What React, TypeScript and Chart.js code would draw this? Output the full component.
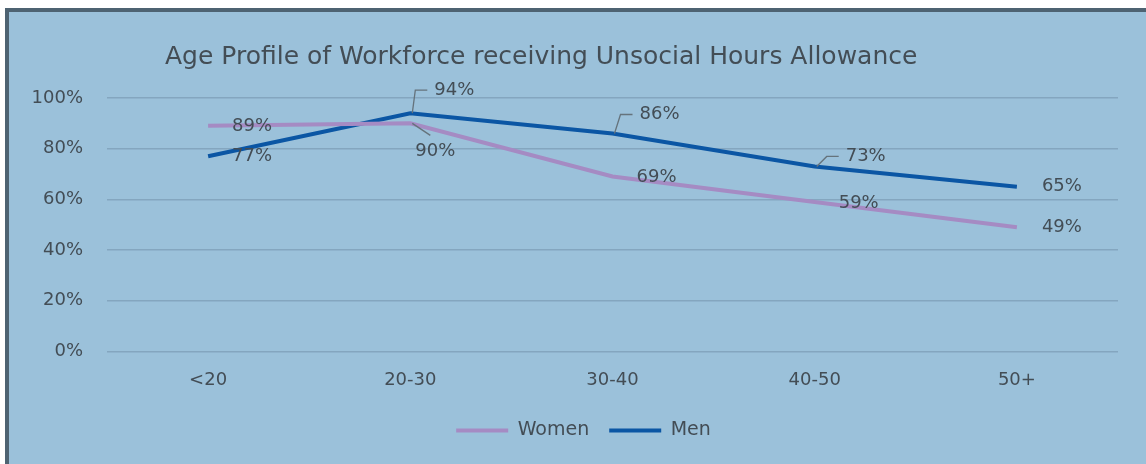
import React, { useEffect, useRef } from "react";
import { Chart, registerables } from "chart.js";

Chart.register(...registerables);

const categories = ["<20", "20-30", "30-40", "40-50", "50+"];
const womenValues = [89, 90, 69, 59, 49];
const menValues = [77, 94, 86, 73, 65];
const yTicks = [0, 20, 40, 60, 80, 100];
const titleText = "Age Profile of Workforce receiving Unsocial Hours Allowance";

const FONT = "'DejaVu Sans'";
const TEXT_COLOR = "#434d55";
const WOMEN_COLOR = "#a58bc3";
const MEN_COLOR = "#0b56a4";

// label placement: [dx of label left edge, dy of label centre, leader type]
const womenLabelPlacement: [number, number, string][] = [
  [24, 0, ""],
  [5, 28, "down"],
  [24, 1, ""],
  [24, 1, ""],
  [25, 0, ""],
];
const menLabelPlacement: [number, number, string][] = [
  [24, 0, ""],
  [24, -23, "up"],
  [27, -19, "up"],
  [31, -10, "up"],
  [25, 0, ""],
];

const frameAndTitle = {
  id: "frameAndTitle",
  beforeDraw(chart: any) {
    const ctx = chart.ctx;
    ctx.save();
    ctx.fillStyle = "#ffffff";
    ctx.fillRect(0, 0, chart.width, chart.height);
    ctx.fillStyle = "#9bc1da";
    ctx.fillRect(5, 8, chart.width, chart.height);
    ctx.fillStyle = "#4e6372";
    ctx.fillRect(5, 8, chart.width, 4);
    ctx.fillRect(5, 8, 4, chart.height);
    ctx.font = `25px ${FONT}`;
    ctx.fillStyle = TEXT_COLOR;
    ctx.textBaseline = "middle";
    ctx.textAlign = "left";
    ctx.fillText(titleText, 165, 57);
    ctx.restore();
  },
};

const pointLabels = {
  id: "pointLabels",
  afterDatasetsDraw(chart: any) {
    const ctx = chart.ctx;
    ctx.save();
    ctx.font = `18px ${FONT}`;
    ctx.fillStyle = TEXT_COLOR;
    ctx.textBaseline = "middle";
    ctx.textAlign = "left";
    const placements = [womenLabelPlacement, menLabelPlacement];
    chart.data.datasets.forEach((ds: any, di: number) => {
      const meta = chart.getDatasetMeta(di);
      meta.data.forEach((pt: any, i: number) => {
        const [dx, dy, leader] = placements[di][i];
        const text = `${ds.data[i]}%`;
        const left = pt.x + dx;
        const cy = pt.y + dy;
        ctx.fillText(text, left, cy);
        if (leader) {
          ctx.strokeStyle = "#65737c";
          ctx.lineWidth = 1.3;
          ctx.beginPath();
          if (leader === "up") {
            ctx.moveTo(pt.x + 2, pt.y);
            ctx.lineTo(left - 19, cy);
            ctx.lineTo(left - 7, cy);
          } else {
            ctx.moveTo(pt.x + 2, pt.y);
            ctx.lineTo(left + 15, cy - 16);
          }
          ctx.stroke();
        }
      });
    });
    ctx.restore();
  },
};

export default function App() {
  const ref = useRef<HTMLCanvasElement>(null);
  useEffect(() => {
    if (!ref.current) return;
    const chart = new Chart(ref.current, {
      type: "line",
      data: {
        labels: categories,
        datasets: [
          {
            label: "Women",
            data: womenValues,
            borderColor: WOMEN_COLOR,
            backgroundColor: WOMEN_COLOR,
            borderWidth: 4,
            pointRadius: 0,
            tension: 0,
          },
          {
            label: "Men",
            data: menValues,
            borderColor: MEN_COLOR,
            backgroundColor: MEN_COLOR,
            borderWidth: 4,
            pointRadius: 0,
            tension: 0,
          },
        ],
      },
      options: {
        responsive: false,
        animation: false,
        layout: { padding: { left: 21, right: 0, top: 98, bottom: 14 } },
        scales: {
          x: {
            offset: true,
            grid: { display: false, drawTicks: false },
            border: { display: false },
            ticks: { color: TEXT_COLOR, font: { family: FONT, size: 18 }, padding: 18 },
            afterFit(scale: any) {
              scale.height = scale.height - 8;
            },
          },
          y: {
            min: 0,
            max: 100,
            grid: { color: "#84a6bf", lineWidth: 1.5, drawTicks: false },
            border: { display: false },
            afterBuildTicks(scale: any) {
              scale.ticks = yTicks.map((v) => ({ value: v }));
            },
            afterFit(scale: any) {
              scale.width = 86;
            },
            ticks: {
              color: TEXT_COLOR,
              font: { family: FONT, size: 18 },
              padding: 24,
              callback: (v: any) => `${v}%`,
            },
          },
          yRight: {
            position: "right",
            min: 0,
            max: 100,
            grid: { display: false, drawTicks: false },
            border: { display: false },
            ticks: { display: false },
            afterFit(scale: any) {
              scale.width = 28;
            },
          },
        },
        plugins: {
          title: { display: false },
          tooltip: { enabled: false },
          legend: {
            position: "bottom",
            labels: {
              color: TEXT_COLOR,
              font: { family: FONT, size: 19 },
              boxWidth: 52,
              boxHeight: 4,
              padding: 20,
              generateLabels(chart: any) {
                return chart.data.datasets.map((ds: any, i: number) => ({
                  text: ds.label,
                  fillStyle: ds.borderColor,
                  strokeStyle: ds.borderColor,
                  lineWidth: 0,
                  fontColor: TEXT_COLOR,
                  hidden: false,
                  datasetIndex: i,
                }));
              },
            },
          },
        },
      },
      plugins: [frameAndTitle, pointLabels],
    });
    return () => chart.destroy();
  }, []);
  return (
    <div style={{ position: "absolute", left: 0, top: 0, width: 1146, height: 464 }}>
      <canvas ref={ref} width={1146} height={464} />
    </div>
  );
}
